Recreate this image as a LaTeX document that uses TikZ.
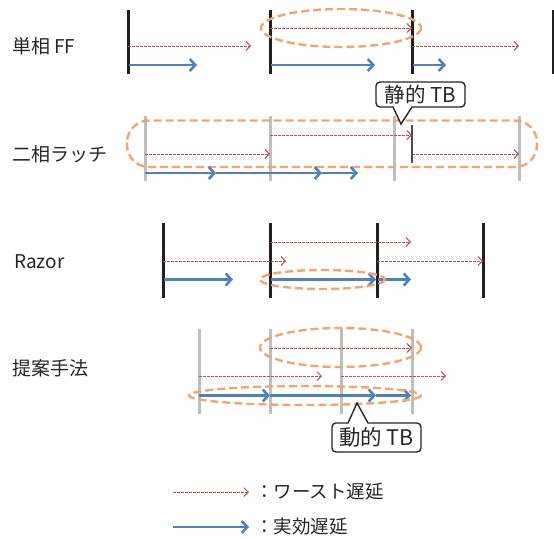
\documentclass[tikz,border=0pt]{standalone}
\usepackage{fontspec}
\setmainfont{Noto Sans CJK JP}
\usetikzlibrary{arrows.meta}
\definecolor{worst}{HTML}{C0504D}
\definecolor{eff}{HTML}{4F81BD}
\definecolor{orng}{HTML}{F4A46E}
\definecolor{barg}{HTML}{BFBFBF}
\definecolor{barb}{HTML}{231F20}
\tikzset{
  worstarr/.style={worst, line width=0.8pt, dash pattern=on 2.5pt off 1.5pt, -{Straight Barb[length=4.5pt,width=9pt,line width=0.9pt]}},
  effarr/.style={eff, line width=2.8pt, -{Straight Barb[length=5.5pt,width=12pt,line width=2.6pt]}},
  blackbar/.style={barb, line width=3pt},
  graybar/.style={barg, line width=3pt},
  thinbar/.style={black!70, line width=1.2pt},
  tb/.style={orng, line width=2.4pt, dash pattern=on 8pt off 4pt},
  rowlabel/.style={anchor=west, inner sep=0pt, font=\fontsize{19}{19}\selectfont, text=black!85},
  calloutbox/.style={draw=black!85, line width=1.4pt, fill=white},
  callouttext/.style={inner sep=0pt, font=\fontsize{20.5}{20.5}\selectfont, text=black!85},
  legendtext/.style={anchor=west, inner sep=0pt, font=\fontsize{18.5}{18.5}\selectfont, text=black!85}
}
\begin{document}
\begin{tikzpicture}[x=1pt,y=-1pt]
\useasboundingbox (0,0) rectangle (554,538);
% ---------------- Row 1: single-phase FF
\node[rowlabel] (l1) at (12,46) {単相 FF};
\foreach \x/\n in {128/a,270/b,412/c,553/d}{
  \draw[blackbar] (\x,10) coordinate (r1\n t) -- (\x,74) coordinate (r1\n b);
}
\draw[tb] (341,28) ellipse (80 and 19);
\coordinate (w1a) at (270,28); \coordinate (w1b) at (412,28);
\draw[worstarr] (w1a) -- (w1b);
\coordinate (w1c) at (128,46); \coordinate (w1d) at (251,46);
\draw[worstarr] (w1c) -- (w1d);
\coordinate (w1e) at (412,46); \coordinate (w1f) at (519,46);
\draw[worstarr] (w1e) -- (w1f);
\coordinate (e1a) at (129,65); \coordinate (e1b) at (197,65);
\draw[effarr] (e1a) -- (e1b);
\coordinate (e1c) at (271,65); \coordinate (e1d) at (375,65);
\draw[effarr] (e1c) -- (e1d);
\coordinate (e1e) at (413,65); \coordinate (e1f) at (446,65);
\draw[effarr] (e1e) -- (e1f);
% ---------------- Row 2: two-phase latch
\node[rowlabel] (l2) at (12,154) {二相ラッチ};
\foreach \x/\n in {145/a,270/b,394/c,519/d}{
  \draw[graybar] (\x,116) -- (\x,181);
}
\draw[thinbar] (412,125) -- (412,163);
\draw[tb, rounded corners=22pt] (127,120.5) rectangle (537,167);
\coordinate (w2a) at (270,135); \coordinate (w2b) at (412,135);
\draw[worstarr] (w2a) -- (w2b);
\coordinate (w2c) at (145,154); \coordinate (w2d) at (270,154);
\draw[worstarr] (w2c) -- (w2d);
\coordinate (w2e) at (412,154); \coordinate (w2f) at (519,154);
\draw[worstarr] (w2e) -- (w2f);
\coordinate (e2a) at (145,173); \coordinate (e2b) at (216,173);
\draw[effarr] (e2a) -- (e2b);
\coordinate (e2c) at (216,173); \coordinate (e2d) at (322,173);
\draw[effarr] (e2c) -- (e2d);
\coordinate (e2e) at (322,173); \coordinate (e2f) at (358,173);
\draw[effarr] (e2e) -- (e2f);
% callout 静的 TB
\draw[calloutbox] (393,107) [rounded corners=4pt] -- (376,107) -- (376,82) -- (465,82) -- (465,107) [sharp corners] -- (412,107) -- (401,124) -- cycle;
\node[callouttext] (stb) at (420.5,94.5) {静的 TB};
% ---------------- Row 3: Razor
\node[rowlabel] (l3) at (14,262) {Razor};
\foreach \x/\n in {163/a,270/b,377/c,483/d}{
  \draw[blackbar] (\x,223) -- (\x,298);
}
\coordinate (w3a) at (270,242); \coordinate (w3b) at (411,242);
\draw[worstarr] (w3a) -- (w3b);
\coordinate (w3c) at (163,261); \coordinate (w3d) at (286,261);
\draw[worstarr] (w3c) -- (w3d);
\coordinate (w3e) at (377,261); \coordinate (w3f) at (483,261);
\draw[worstarr] (w3e) -- (w3f);
\coordinate (e3a) at (164,279.5); \coordinate (e3b) at (233,279.5);
\draw[effarr] (e3a) -- (e3b);
\coordinate (e3c) at (271,279.5); \coordinate (e3d) at (376,279.5);
\draw[effarr] (e3c) -- (e3d);
\coordinate (e3e) at (378,279.5); \coordinate (e3f) at (411,279.5);
\draw[effarr] (e3e) -- (e3f);
\draw[tb] (322.5,279.5) ellipse (62.5 and 9.5);
% ---------------- Row 4: proposed
\node[rowlabel] (l4) at (12,368) {提案手法};
\foreach \x/\n in {199/a,270/b,341/c,412/d}{
  \draw[graybar] (\x,329) -- (\x,414);
}
\draw[tb] (340.5,347.5) ellipse (80.5 and 19.5);
\coordinate (w4a) at (270,348); \coordinate (w4b) at (412,348);
\draw[worstarr] (w4a) -- (w4b);
\coordinate (w4c) at (199,376); \coordinate (w4d) at (322,376);
\draw[worstarr] (w4c) -- (w4d);
\coordinate (w4e) at (341,376); \coordinate (w4f) at (446,376);
\draw[worstarr] (w4e) -- (w4f);
\coordinate (e4a) at (199,395.5); \coordinate (e4b) at (270,395.5);
\draw[effarr] (e4a) -- (e4b);
\coordinate (e4c) at (270,395.5); \coordinate (e4d) at (376,395.5);
\draw[effarr] (e4c) -- (e4d);
\coordinate (e4e) at (376,395.5); \coordinate (e4f) at (411,395.5);
\draw[effarr] (e4e) -- (e4f);
\draw[tb] (305,395.5) ellipse (116 and 9.5);
% callout 動的 TB
\draw[calloutbox] (368,423) [rounded corners=4pt] -- (421,423) -- (421,452) -- (332,452) -- (332,423) [sharp corners] -- (348,423) -- (357,403) -- cycle;
\node[callouttext, font=\fontsize{21.5}{21.5}\selectfont] (dtb) at (376.5,437.5) {動的 TB};
% ---------------- Legend
\coordinate (lg1a) at (173,492); \coordinate (lg1b) at (249,492);
\draw[worstarr] (lg1a) -- (lg1b);
\node[legendtext] (lt1) at (255,492) {：ワースト遅延};
\coordinate (lg2a) at (173,527); \coordinate (lg2b) at (249,527);
\draw[effarr] (lg2a) -- (lg2b);
\node[legendtext] (lt2) at (255,527) {：実効遅延};
\end{tikzpicture}
\end{document}
